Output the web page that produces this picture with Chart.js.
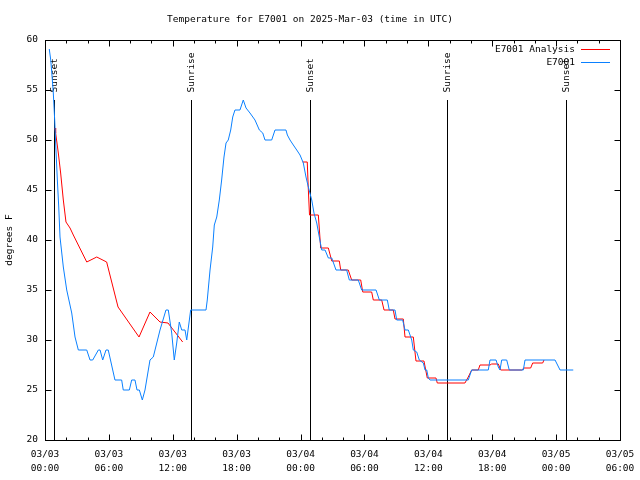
<!DOCTYPE html>
<html>
<head>
<meta charset="utf-8">
<script src="https://cdn.jsdelivr.net/npm/chart.js@4.4.1/dist/chart.umd.min.js"></script>
<style>
  html, body { margin: 0; padding: 0; background: #fff; }
</style>
</head>
<body>
<canvas id="tempChart" width="640" height="480"></canvas>
<script>
// Eixo x em horas desde 03/03 00:00 UTC
const titulo = 'Temperature for E7001 on 2025-Mar-03 (time in UTC)';
const xTickLabels = [
    ['03/03', '00:00'], ['03/03', '06:00'], ['03/03', '12:00'], ['03/03', '18:00'],
    ['03/04', '00:00'], ['03/04', '06:00'], ['03/04', '12:00'], ['03/04', '18:00'],
    ['03/05', '00:00'], ['03/05', '06:00']
];

// E7001 Analysis (vermelho) - null = intervalo sem dados
const analiseHoras = [
    0.94, 1.00, 1.25, 1.47, 1.72, 1.97, 2.35, 2.66, 3.92, 4.86, 5.79, 6.86, 8.83, 9.86, 10.80, 11.55, 12.93,
    18.5,
    24.20, 24.63, 24.72, 24.84, 25.67, 25.89, 26.61, 26.93, 27.64, 27.77, 28.48, 28.80, 29.65, 29.84,
    30.68, 30.83, 31.62, 31.84, 32.71, 32.87, 33.65, 33.81, 34.59, 34.84, 35.59, 35.90, 36.72, 36.84,
    39.44, 39.75, 40.07, 40.69, 40.85, 41.79, 41.95, 42.57, 42.80, 44.77, 44.98, 45.61, 45.80, 46.74, 46.86
];
const analiseTemps = [
    51.2, 50.7, 48.7, 46.7, 44.0, 41.8, 41.2, 40.5, 37.8, 38.3, 37.8, 33.3, 30.3, 32.8, 31.8, 31.7, 29.8,
    null,
    47.8, 47.8, 45.3, 42.5, 42.5, 39.2, 39.2, 37.9, 37.9, 37.0, 37.0, 36.0, 36.0, 34.8,
    34.8, 34.0, 34.0, 33.0, 33.0, 32.1, 32.1, 30.3, 30.3, 27.9, 27.9, 26.2, 26.2, 25.7,
    25.7, 26.3, 27.0, 27.0, 27.5, 27.5, 27.6, 27.6, 27.0, 27.0, 27.2, 27.2, 27.7, 27.7, 28.0
];

// E7001 observado (azul)
const obsHoras = [
    0.40, 0.54, 0.69, 0.78, 0.91, 1.03, 1.16, 1.29, 1.41, 1.72, 2.04, 2.51, 2.82, 3.13, 3.92, 4.23, 4.48,
    5.01, 5.17, 5.42, 5.73, 5.94, 6.57, 7.20, 7.35, 7.92, 8.14, 8.45, 8.64, 8.86, 9.14, 9.39, 9.86, 10.17,
    10.80, 11.36, 11.58, 11.90, 12.14, 12.37, 12.61, 12.84, 13.15, 13.31, 13.52, 13.68, 15.12, 15.24, 15.50,
    15.75, 15.90, 16.13, 16.37, 16.59, 16.81, 17.00, 17.21, 17.44, 17.63, 17.84, 18.31, 18.62, 18.88, 19.25,
    19.72, 20.13, 20.45, 20.66, 21.29, 21.60, 22.63, 22.76, 23.01, 23.32, 23.64, 23.95, 24.26, 24.51, 24.73,
    25.05, 25.26, 25.52, 25.76, 25.99, 26.30, 26.61, 26.93, 27.33, 28.33, 28.58, 29.42, 29.74, 31.09, 31.40,
    32.15, 32.33, 32.87, 33.03, 33.59, 33.81, 34.12, 34.44, 34.59, 34.91, 35.15, 35.53, 35.69, 35.85, 36.00,
    36.16, 39.75, 40.07, 41.63, 41.79, 42.36, 42.57, 42.73, 42.89, 43.36, 43.60, 44.92, 45.08, 47.90, 48.37, 49.61
];
const obsTemps = [
    59.1, 58.0, 56.0, 54.7, 52.0, 49.0, 46.0, 43.3, 40.3, 37.3, 35.0, 32.7, 30.3, 29.0, 29.0, 28.0, 28.0,
    29.0, 29.0, 28.0, 29.0, 29.0, 26.0, 26.0, 25.0, 25.0, 26.0, 26.0, 25.0, 25.0, 24.0, 25.0, 28.0, 28.3,
    31.0, 33.0, 33.0, 30.7, 28.0, 29.7, 31.8, 31.0, 31.0, 30.0, 31.7, 33.0, 33.0, 34.0, 37.0,
    39.3, 41.5, 42.3, 44.0, 46.0, 48.3, 49.7, 50.0, 51.0, 52.3, 53.0, 53.0, 54.0, 53.2, 52.7,
    52.0, 51.0, 50.7, 50.0, 50.0, 51.0, 51.0, 50.5, 50.0, 49.5, 49.0, 48.5, 47.7, 46.3, 45.3,
    44.0, 42.7, 41.7, 40.3, 39.0, 39.0, 38.2, 38.2, 37.0, 37.0, 36.0, 36.0, 35.0, 35.0, 34.0,
    34.0, 33.0, 33.0, 32.0, 32.0, 31.0, 31.0, 30.0, 29.0, 28.8, 28.0, 27.7, 27.0, 27.0, 26.2,
    26.0, 26.0, 27.0, 27.0, 28.0, 28.0, 27.3, 27.0, 28.0, 28.0, 27.0, 27.0, 28.0, 28.0, 27.0, 27.0
];

// Nascer/pôr do sol
const solHoras = [0.85, 13.72, 24.87, 37.78, 48.95];
const solRotulos = ['Sunset', 'Sunrise', 'Sunset', 'Sunrise', 'Sunset'];

const FONTE = 'DejaVu Sans Mono';
const CORES = { analise: '#ff0000', obs: '#0a80ff' };

function pares(xs, ys) {
    return xs.map((h, i) => ({ x: h, y: ys[i] }));
}

const molduraGnuplot = {
    id: 'molduraGnuplot',
    beforeDatasetsDraw(chart) {
        const { ctx, chartArea: a, scales: { x, y } } = chart;
        ctx.save();
        ctx.strokeStyle = '#000';
        ctx.fillStyle = '#000';
        ctx.lineWidth = 1;
        ctx.font = `9.5px "${FONTE}"`;
        const topoLinha = Math.round(y.getPixelForValue(54));
        const baseTexto = y.getPixelForValue(54.75);
        solHoras.forEach((h, i) => {
            const px = Math.round(x.getPixelForValue(h)) + 0.5;
            ctx.beginPath();
            ctx.moveTo(px, a.bottom);
            ctx.lineTo(px, topoLinha);
            ctx.stroke();
            ctx.save();
            ctx.translate(px, baseTexto);
            ctx.rotate(-Math.PI / 2);
            ctx.textAlign = 'left';
            ctx.textBaseline = 'middle';
            ctx.fillText(solRotulos[i], 0, 0);
            ctx.restore();
        });
        ctx.restore();
    },
    afterDraw(chart) {
        const { ctx, chartArea: a, scales: { x, y } } = chart;
        ctx.save();
        ctx.strokeStyle = '#000';
        ctx.lineWidth = 1;
        const L = Math.round(a.left) + 0.5, R = Math.round(a.right) + 0.5;
        const T = Math.round(a.top) + 0.5, B = Math.round(a.bottom) + 0.5;
        ctx.strokeRect(L, T, R - L, B - T);

        // marcas do eixo x (principais a cada 6h, secundárias a cada 2h)
        ctx.beginPath();
        for (let h = 0; h <= 54; h += 2) {
            const px = Math.round(x.getPixelForValue(h)) + 0.5;
            const len = h % 6 === 0 ? 6 : 3;
            ctx.moveTo(px, B); ctx.lineTo(px, B - len);
            ctx.moveTo(px, T); ctx.lineTo(px, T + len);
        }
        // marcas do eixo y
        for (let v = 20; v <= 60; v += 5) {
            const py = Math.round(y.getPixelForValue(v)) + 0.5;
            ctx.moveTo(L, py); ctx.lineTo(L + 6, py);
            ctx.moveTo(R, py); ctx.lineTo(R - 6, py);
        }
        ctx.stroke();

        // legenda
        ctx.font = `9.5px "${FONTE}"`;
        ctx.textAlign = 'right';
        ctx.textBaseline = 'middle';
        ctx.fillStyle = '#000';
        chart.data.datasets.forEach((ds, i) => {
            const ly = 49.5 + i * 13;
            ctx.fillText(ds.label, 575, ly);
            ctx.strokeStyle = ds.borderColor;
            ctx.beginPath();
            ctx.moveTo(581, ly);
            ctx.lineTo(610, ly);
            ctx.stroke();
        });
        ctx.restore();
    }
};

document.addEventListener('DOMContentLoaded', function() {
    const ctx = document.getElementById('tempChart').getContext('2d');
    new Chart(ctx, {
        type: 'line',
        data: {
            datasets: [
                {
                    label: 'E7001 Analysis',
                    data: pares(analiseHoras, analiseTemps),
                    borderColor: CORES.analise,
                    backgroundColor: CORES.analise,
                    borderWidth: 1,
                    pointRadius: 0,
                    tension: 0,
                    spanGaps: false,
                    order: 2
                },
                {
                    label: 'E7001',
                    data: pares(obsHoras, obsTemps),
                    borderColor: CORES.obs,
                    backgroundColor: CORES.obs,
                    borderWidth: 1,
                    pointRadius: 0,
                    tension: 0,
                    order: 1
                }
            ]
        },
        options: {
            responsive: false,
            animation: false,
            layout: { padding: { left: 0, right: 20, top: 0, bottom: 0 } },
            scales: {
                x: {
                    type: 'linear',
                    min: 0,
                    max: 54,
                    grid: { display: false, drawTicks: false },
                    border: { display: false },
                    afterFit: function(scale) {
                        scale.height = 40;
                        scale.paddingLeft = 0;
                        scale.paddingRight = 0;
                    },
                    ticks: {
                        stepSize: 6,
                        autoSkip: false,
                        maxRotation: 0,
                        padding: 8,
                        color: '#000',
                        font: { family: FONTE, size: 9.5, lineHeight: 1.45 },
                        callback: function(value) {
                            return xTickLabels[Math.round(value / 6)];
                        }
                    }
                },
                y: {
                    min: 20,
                    max: 60,
                    grid: { display: false, drawTicks: false },
                    border: { display: false },
                    afterFit: function(scale) { scale.width = 45; },
                    title: {
                        display: true,
                        text: 'degrees F',
                        color: '#000',
                        font: { family: FONTE, size: 9.5 },
                        padding: { top: 4, bottom: 4 }
                    },
                    ticks: {
                        stepSize: 5,
                        padding: 7,
                        color: '#000',
                        font: { family: FONTE, size: 9.5 }
                    }
                }
            },
            plugins: {
                legend: { display: false },
                tooltip: { enabled: false },
                title: {
                    display: true,
                    text: titulo,
                    color: '#000',
                    font: { family: FONTE, size: 9.5, weight: 'normal', lineHeight: 1.2 },
                    padding: { top: 14, bottom: 14.6 }
                }
            }
        },
        plugins: [molduraGnuplot]
    });
});
</script>
</body>
</html>
